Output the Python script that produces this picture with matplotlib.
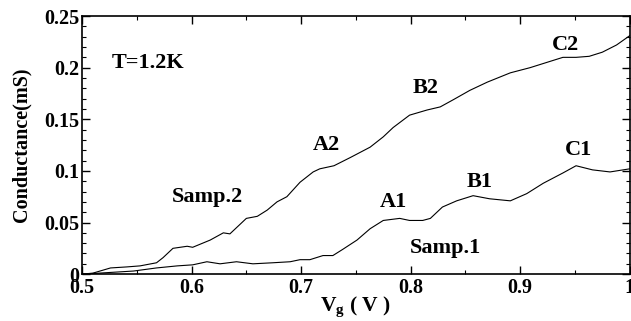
import matplotlib.pyplot as plt
from matplotlib.ticker import MultipleLocator

# Samp.2 (upper curve)
vg2 = [0.50, 0.51, 0.526, 0.541, 0.553, 0.568, 0.574, 0.583, 0.596, 0.601, 0.617,
       0.629, 0.635, 0.641, 0.65, 0.66, 0.669, 0.678, 0.687, 0.699, 0.711, 0.717,
       0.73, 0.745, 0.763, 0.775, 0.784, 0.799, 0.815, 0.827, 0.839, 0.854, 0.870,
       0.891, 0.909, 0.921, 0.939, 0.951, 0.963, 0.975, 0.988, 1.0]
g2 = [0.0, 0.001, 0.006, 0.007, 0.008, 0.011, 0.016, 0.025, 0.027, 0.026, 0.033,
      0.040, 0.039, 0.045, 0.054, 0.056, 0.062, 0.070, 0.075, 0.089, 0.099, 0.102,
      0.105, 0.113, 0.123, 0.133, 0.142, 0.154, 0.159, 0.162, 0.169, 0.178, 0.186,
      0.195, 0.200, 0.204, 0.210, 0.210, 0.211, 0.215, 0.222, 0.231]

# Samp.1 (lower curve)
vg1 = [0.50, 0.516, 0.547, 0.568, 0.587, 0.601, 0.614, 0.626, 0.641, 0.656, 0.674,
       0.690, 0.699, 0.708, 0.717, 0.720, 0.729, 0.738, 0.751, 0.763, 0.775, 0.790,
       0.799, 0.811, 0.818, 0.829, 0.842, 0.857, 0.872, 0.891, 0.906, 0.921, 0.939,
       0.951, 0.966, 0.982, 1.0]
g1 = [0.0, 0.001, 0.003, 0.006, 0.008, 0.009, 0.012, 0.010, 0.012, 0.010, 0.011,
      0.012, 0.014, 0.014, 0.017, 0.018, 0.018, 0.024, 0.033, 0.044, 0.052, 0.054,
      0.052, 0.052, 0.054, 0.065, 0.071, 0.076, 0.073, 0.071, 0.078, 0.088, 0.098,
      0.105, 0.101, 0.099, 0.102]

labels = [('T=1.2K', 0.527, 0.205), ('Samp.2', 0.582, 0.075), ('A2', 0.711, 0.125),
          ('B2', 0.802, 0.180), ('C2', 0.929, 0.222), ('A1', 0.772, 0.070),
          ('B1', 0.851, 0.089), ('C1', 0.941, 0.120), ('Samp.1', 0.799, 0.025)]

plt.rcParams['font.family'] = ['Liberation Serif', 'DejaVu Serif']
plt.rcParams['font.weight'] = 'bold'
plt.rcParams['mathtext.fontset'] = 'custom'
plt.rcParams['mathtext.rm'] = 'Liberation Serif:bold'
plt.rcParams['mathtext.bf'] = 'Liberation Serif:bold'
plt.rcParams['mathtext.it'] = 'Liberation Serif:bold'

fig = plt.figure(figsize=(6.31, 3.21), dpi=100)
ax = fig.add_axes([0.130, 0.146, 0.868, 0.804])

ax.plot(vg2, g2, color='black', lw=0.8)
ax.plot(vg1, g1, color='black', lw=0.8)

for txt, x, y in labels:
    ax.text(x, y, txt, fontsize=16, fontweight='bold', ha='left', va='center')

ax.set_xlim(0.5, 1.0)
ax.set_ylim(0, 0.25)
ax.xaxis.set_minor_locator(MultipleLocator(0.05))
ax.yaxis.set_minor_locator(MultipleLocator(0.01))
ax.set_xticks([0.5, 0.6, 0.7, 0.8, 0.9, 1.0])
ax.set_xticklabels(['0.5', '0.6', '0.7', '0.8', '0.9', '1'])
ax.set_yticks([0, 0.05, 0.1, 0.15, 0.2, 0.25])
ax.set_yticklabels(['0', '0.05', '0.1', '0.15', '0.2', '0.25'])
ax.tick_params(which='both', direction='in', top=True, right=True, labelsize=14.5)
ax.tick_params(which='major', length=6, width=1)
ax.tick_params(which='minor', length=3, width=0.8)
ax.tick_params(axis='x', pad=3)
ax.tick_params(axis='y', pad=2)
for s in ax.spines.values():
    s.set_linewidth(1.2)

ax.set_xlabel(r'V$_{\mathrm{g}}$ ( V )', fontsize=15.5, fontweight='bold', labelpad=-3)
ax.set_ylabel('Conductance(mS)', fontsize=14.5, fontweight='bold', labelpad=9)

fig.savefig('out.png', dpi=100)
